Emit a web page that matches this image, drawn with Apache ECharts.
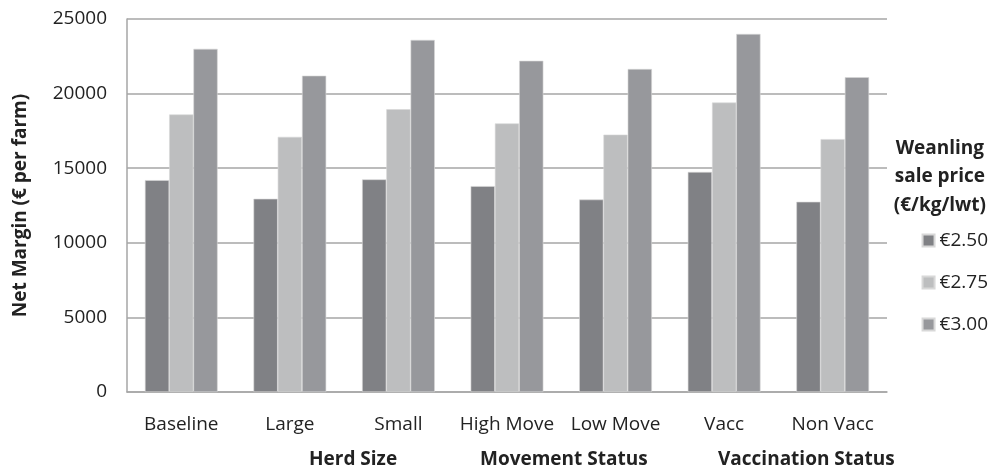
<!DOCTYPE html>
<html>
<head>
<meta charset="utf-8">
<script src="https://cdn.jsdelivr.net/npm/echarts@6/dist/echarts.min.js"></script>
<style>
  html, body { margin: 0; padding: 0; background: #fff; }
  #chart { width: 995px; height: 470px; }
</style>
</head>
<body>
<div id="chart"></div>
<script>
// Scenario categories along the x axis
const categories = ['Baseline', 'Large', 'Small', 'High Move', 'Low Move', 'Vacc', 'Non Vacc'];

// Net margin (€ per farm) at each weanling sale price
const price250 = [14200, 12950, 14250, 13800, 12900, 14750, 12750];
const price275 = [18600, 17100, 18950, 18000, 17250, 19400, 16950];
const price300 = [23000, 21200, 23600, 22200, 21650, 24000, 21100];

const seriesNames = ['€2.50', '€2.75', '€3.00'];
const yTicks = { min: 0, max: 25000, interval: 5000 };

// Scenario group captions under the axis
const groupLabels = ['Herd Size', 'Movement Status', 'Vaccination Status'];

const FONT = "'Open Sans', 'Noto Sans', sans-serif";
const colors = ['#808185', '#bdbebf', '#97989c'];

const chart = echarts.init(document.getElementById('chart'), null, { renderer: 'canvas' });

const makeSeries = (name, data, color) => ({
  name: name,
  type: 'bar',
  data: data,
  barGap: '0%',
  barCategoryGap: '33%',
  itemStyle: { color: color, borderColor: '#d8d8d8', borderWidth: 0.6 }
});

chart.setOption({
  animation: false,
  textStyle: { fontFamily: FONT },
  grid: { left: 127, right: 108, top: 19, bottom: 78, containLabel: false, outerBoundsMode: 'none' },
  xAxis: {
    type: 'category',
    data: categories,
    axisLine: { lineStyle: { color: '#a6a6a6', width: 1.5 } },
    axisTick: { show: false },
    axisLabel: { color: '#222', fontSize: 19, margin: 23, interval: 0, fontFamily: FONT }
  },
  yAxis: {
    type: 'value',
    min: yTicks.min,
    max: yTicks.max,
    interval: yTicks.interval,
    name: 'Net Margin (€ per farm)',
    nameLocation: 'middle',
    nameGap: 97,
    nameTextStyle: { color: '#222', fontSize: 19, fontWeight: 'bold', fontFamily: FONT },
    axisLine: { show: true, lineStyle: { color: '#a6a6a6', width: 1.5 } },
    axisTick: { show: false },
    axisLabel: { color: '#222', fontSize: 19, margin: 20, fontFamily: FONT, formatter: v => String(v) },
    splitLine: { lineStyle: { color: '#a6a6a6', width: 1.5 } }
  },
  legend: {
    orient: 'vertical',
    right: 2,
    top: 226,
    itemGap: 23,
    itemWidth: 12,
    itemHeight: 12,
    icon: 'rect',
    data: seriesNames,
    textStyle: { color: '#222', fontSize: 19, fontFamily: FONT }
  },
  graphic: [
    {
      type: 'text', right: 9, top: 134,
      style: {
        text: 'Weanling\nsale price\n(€/kg/lwt)',
        fill: '#222', font: "bold 19px " + FONT,
        textAlign: 'center', lineHeight: 28.5
      }
    },
    { type: 'text', left: 309, top: 450, style: { text: groupLabels[0], fill: '#222', font: "bold 19px " + FONT } },
    { type: 'text', left: 480, top: 450, style: { text: groupLabels[1], fill: '#222', font: "bold 19px " + FONT } },
    { type: 'text', left: 718, top: 450, style: { text: groupLabels[2], fill: '#222', font: "bold 19px " + FONT } }
  ],
  series: [
    makeSeries(seriesNames[0], price250, colors[0]),
    makeSeries(seriesNames[1], price275, colors[1]),
    makeSeries(seriesNames[2], price300, colors[2])
  ]
});
</script>
</body>
</html>
